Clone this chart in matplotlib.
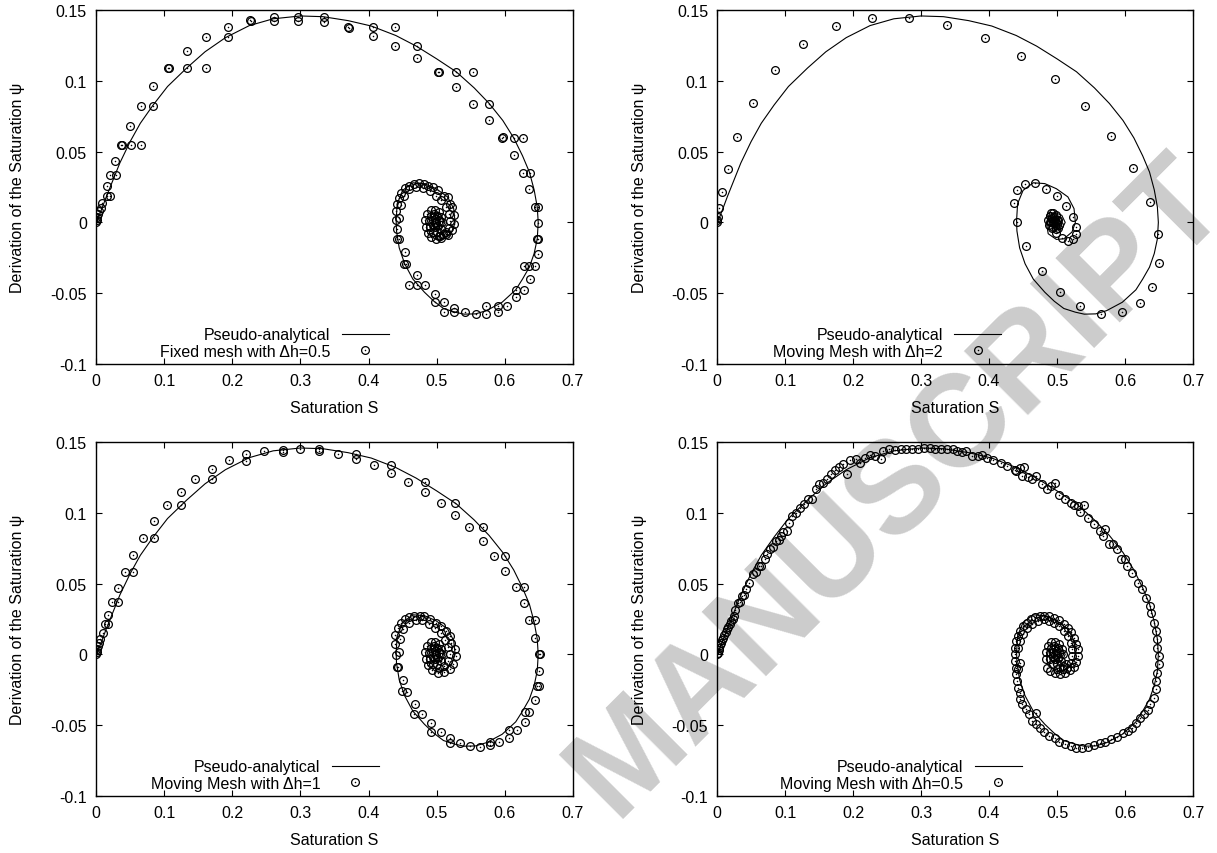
import numpy as np
import matplotlib
matplotlib.use('Agg')
import matplotlib.pyplot as plt

plt.rcParams['font.family'] = ['Liberation Sans', 'DejaVu Sans']
plt.rcParams['axes.unicode_minus'] = False

# pseudo-analytical trajectory in the (S, psi) phase plane
analytical = np.array([
    (0.0, 0.0), (0.004, 0.004), (0.008, 0.009), (0.015, 0.018), (0.025, 0.030), (0.035, 0.042),
    (0.05, 0.057), (0.065, 0.070), (0.084, 0.083), (0.105, 0.096), (0.133, 0.109), (0.16, 0.1205),
    (0.19, 0.1305), (0.225, 0.139), (0.26, 0.1438), (0.3, 0.1458), (0.333, 0.1453), (0.37, 0.1425),
    (0.404, 0.1387), (0.44, 0.132), (0.47, 0.1245), (0.50, 0.1155), (0.5286, 0.1064), (0.555, 0.095),
    (0.577, 0.084), (0.597, 0.072), (0.613, 0.0597), (0.626, 0.047), (0.636, 0.0356), (0.643, 0.023),
    (0.6476, 0.0108), (0.649, 0.0), (0.6476, -0.0116), (0.643, -0.022), (0.636, -0.0316), (0.626, -0.040),
    (0.616, -0.0476), (0.596, -0.0564), (0.573, -0.0623), (0.557, -0.0646), (0.54, -0.0648), (0.527, -0.0634),
    (0.51, -0.0608), (0.496, -0.0557), (0.482, -0.0493), (0.465, -0.040), (0.453, -0.0292), (0.445, -0.018),
    (0.441, -0.006), (0.4405, 0.0014), (0.442, 0.0132), (0.45, 0.0226), (0.465, 0.028), (0.482, 0.0274),
    (0.499, 0.0238), (0.516, 0.018), (0.525, 0.0097), (0.527, 0.0), (0.522, -0.0068), (0.51, -0.0116),
    (0.499, -0.012), (0.487, -0.008), (0.485, -0.002), (0.488, 0.004), (0.497, 0.007), (0.507, 0.005),
    (0.512, 0.0), (0.508, -0.004), (0.5, -0.005), (0.494, -0.002), (0.496, 0.002), (0.502, 0.003),
    (0.505, 0.0), (0.501, -0.002), (0.499, 0.0),
])

# fixed mesh, dh = 0.5
fixed_05 = np.array([
    (0.0, 0.0), (0.001, 0.002), (0.002, 0.004), (0.003, 0.006), (0.005, 0.008), (0.007, 0.010),
    (0.0086, 0.0139), (0.0154, 0.019), (0.020, 0.019), (0.0154, 0.0255), (0.021, 0.0333), (0.0286, 0.0333),
    (0.028, 0.0432), (0.037, 0.055), (0.038, 0.055), (0.050, 0.068), (0.051, 0.055), (0.066, 0.055),
    (0.066, 0.082), (0.084, 0.082), (0.084, 0.096), (0.105, 0.109), (0.107, 0.109), (0.133, 0.109),
    (0.133, 0.121), (0.161, 0.109), (0.161, 0.131), (0.193, 0.131), (0.193, 0.138), (0.226, 0.143),
    (0.227, 0.142), (0.261, 0.1453), (0.261, 0.1425), (0.297, 0.1453), (0.297, 0.1425), (0.334, 0.1453),
    (0.334, 0.1417), (0.370, 0.138), (0.371, 0.1375), (0.406, 0.138), (0.406, 0.132), (0.439, 0.138),
    (0.439, 0.1245), (0.471, 0.1245), (0.471, 0.116), (0.502, 0.1064), (0.503, 0.106), (0.529, 0.1064),
    (0.529, 0.0953), (0.554, 0.1064), (0.554, 0.0837), (0.577, 0.0837), (0.577, 0.0724), (0.596, 0.0597),
    (0.597, 0.06), (0.614, 0.0597), (0.627, 0.0597), (0.614, 0.0479), (0.626, 0.0351), (0.637, 0.0351),
    (0.636, 0.0233), (0.645, 0.0108), (0.648, 0.0108), (0.649, -0.0007), (0.648, -0.0116), (0.647, -0.0116),
    (0.648, -0.022), (0.628, -0.031), (0.636, -0.031), (0.645, -0.031), (0.637, -0.040), (0.616, -0.0476),
    (0.628, -0.0476), (0.616, -0.053), (0.603, -0.0587), (0.59, -0.0587), (0.59, -0.063), (0.573, -0.0587),
    (0.573, -0.0646), (0.557, -0.0646), (0.542, -0.0634), (0.526, -0.0606), (0.526, -0.0634), (0.510, -0.0559),
    (0.510, -0.0634), (0.497, -0.0505), (0.497, -0.0559), (0.483, -0.0441), (0.471, -0.0441), (0.471, -0.0368),
    (0.460, -0.0441), (0.455, -0.0292), (0.452, -0.0292), (0.453, -0.021), (0.442, -0.012), (0.444, -0.012),
    (0.442, -0.005), (0.44, 0.0014), (0.44, 0.0083), (0.442, 0.0132), (0.445, 0.0172), (0.447, 0.0208),
    (0.453, 0.0243), (0.459, 0.026), (0.466, 0.0271), (0.474, 0.0278), (0.482, 0.0274), (0.487, 0.026),
    (0.494, 0.025), (0.502, 0.0226), (0.51, 0.0186), (0.516, 0.018), (0.519, 0.0132), (0.522, 0.0108),
    (0.526, 0.005), (0.526, -0.001), (0.523, -0.0057), (0.516, -0.009), (0.507, -0.011), (0.499, -0.0116),
    (0.444, 0.003), (0.447, 0.012), (0.452, 0.019), (0.46, 0.0235), (0.47, 0.025), (0.48, 0.0245),
    (0.49, 0.022), (0.499, 0.019), (0.507, 0.0155), (0.513, 0.011), (0.518, 0.006), (0.52, 0.001),
    (0.518, -0.004), (0.513, -0.008), (0.505, -0.0095),
    (0.492, -0.0105), (0.487, -0.0075), (0.484, -0.003), (0.4835, 0.002), (0.486, 0.006), (0.491, 0.0085),
    (0.497, 0.009), (0.503, 0.0075), (0.507, 0.004), (0.5085, 0.0), (0.506, -0.0045), (0.5, -0.007),
    (0.494, -0.0065), (0.49, -0.003), (0.489, 0.001), (0.491, 0.0045), (0.496, 0.006), (0.501, 0.0045),
    (0.503, 0.001), (0.501, -0.0025), (0.497, -0.0035), (0.494, -0.0015), (0.4945, 0.0015), (0.498, 0.0025),
    (0.4995, 0.0), (0.497, -0.0005), (0.503, -0.0095), (0.509, -0.0085), (0.513, -0.0065),
])

# moving mesh, dh = 2
moving_2 = np.array([
    (0.0, 0.0), (0.0, 0.002), (0.001, 0.004), (0.003, 0.0101), (0.0068, 0.0215), (0.0154, 0.0375),
    (0.0296, 0.0601), (0.0524, 0.0844), (0.0854, 0.1078), (0.1264, 0.1262), (0.1748, 0.1384), (0.2278, 0.1441),
    (0.283, 0.1441), (0.3388, 0.1394), (0.394, 0.1302), (0.447, 0.1175), (0.4966, 0.1012), (0.541, 0.0823),
    (0.5797, 0.0611), (0.6116, 0.0382), (0.636, 0.0146), (0.6486, -0.0085), (0.6503, -0.0288), (0.640, -0.0453),
    (0.6213, -0.0571), (0.595, -0.0634), (0.565, -0.0644), (0.534, -0.059), (0.504, -0.0488), (0.4772, -0.034),
    (0.4544, -0.0167), (0.4408, 0.0), (0.4362, 0.0139), (0.4408, 0.0226), (0.4527, 0.0271), (0.468, 0.0278),
    (0.4835, 0.0238), (0.4994, 0.0184), (0.5125, 0.0116), (0.5228, 0.0038), (0.5285, -0.003), (0.5285, -0.0085),
    (0.524, -0.012), (0.5154, -0.013), (0.5068, -0.011), (0.499, -0.0078), (0.4926, -0.004), (0.4897, 0.0),
    (0.489, 0.0045), (0.489, 0.0045), (0.491, 0.0065), (0.494, 0.0065), (0.498, 0.005), (0.502, 0.002),
    (0.5035, -0.0015), (0.5015, -0.004), (0.498, -0.0045), (0.494, -0.003), (0.4905, 0.0), (0.4925, 0.003),
    (0.496, 0.004), (0.4995, 0.002), (0.5005, -0.001), (0.4975, -0.002), (0.494, 0.0), (0.4965, 0.0015),
    (0.498, 0.0), (0.487, 0.0015), (0.4885, -0.002),
])

# moving mesh, dh = 1
moving_1 = np.array([
    (0.0, 0.0), (0.001, 0.002), (0.002, 0.004), (0.003, 0.006), (0.004, 0.008), (0.006, 0.011),
    (0.0097, 0.0153), (0.0126, 0.0212), (0.0183, 0.0212), (0.0183, 0.0282), (0.024, 0.0372), (0.0326, 0.0372),
    (0.0326, 0.0468), (0.0423, 0.0581), (0.0543, 0.0581), (0.0543, 0.0702), (0.0686, 0.0819), (0.0858, 0.0819),
    (0.0858, 0.0939), (0.104, 0.1052), (0.124, 0.1052), (0.124, 0.1149), (0.1459, 0.1238), (0.17, 0.1238),
    (0.17, 0.1311), (0.1945, 0.137), (0.2197, 0.1365), (0.2197, 0.1417), (0.247, 0.1438), (0.274, 0.1443),
    (0.274, 0.1429), (0.2992, 0.1448), (0.327, 0.1448), (0.327, 0.1434), (0.3547, 0.1415), (0.3816, 0.1415),
    (0.3816, 0.1377), (0.4085, 0.1335), (0.433, 0.1335), (0.433, 0.1278), (0.4577, 0.1219), (0.4834, 0.1219),
    (0.4834, 0.1149), (0.5057, 0.1071), (0.5275, 0.1071), (0.5275, 0.0986), (0.5475, 0.0902), (0.5675, 0.0902),
    (0.5675, 0.08), (0.5847, 0.0694), (0.6007, 0.0694), (0.6007, 0.0589), (0.6161, 0.0476), (0.6276, 0.0476),
    (0.6276, 0.0365), (0.6362, 0.0242), (0.6447, 0.0242), (0.6447, 0.0118), (0.6505, 0.0), (0.652, 0.0),
    (0.6505, -0.0118), (0.6465, -0.0224), (0.6505, -0.0224), (0.6447, -0.0322), (0.6293, -0.0407), (0.6362, -0.0407),
    (0.6293, -0.0476), (0.6178, -0.0537), (0.6064, -0.0537), (0.6064, -0.0589), (0.592, -0.0617), (0.5778, -0.0617),
    (0.5778, -0.0643), (0.5635, -0.0652), (0.5492, -0.0647), (0.5343, -0.0624), (0.52, -0.0589), (0.52, -0.0624),
    (0.5057, -0.0546), (0.492, -0.0483), (0.492, -0.0546), (0.4788, -0.0424), (0.4674, -0.0424), (0.4685, -0.0348),
    (0.456, -0.0266), (0.449, -0.0259), (0.45, -0.0177), (0.4416, -0.0087), (0.4428, -0.0087), (0.44, -0.0005),
    (0.4388, 0.0075), (0.4394, 0.0134), (0.4428, 0.0188), (0.4474, 0.0224), (0.4531, 0.0252), (0.4588, 0.0264),
    (0.4674, 0.0275), (0.4748, 0.0275), (0.4817, 0.027), (0.4903, 0.0252), (0.4989, 0.0224), (0.5063, 0.02),
    (0.5132, 0.0165), (0.5189, 0.0129), (0.5217, 0.0082), (0.5263, 0.0035), (0.5286, -0.0012), (0.5246, -0.007),
    (0.5189, -0.0106), (0.5103, -0.0125), (0.5017, -0.0129), (0.4931, -0.0113),
    (0.444, 0.002), (0.446, 0.011), (0.451, 0.018), (0.459, 0.0225), (0.469, 0.0245), (0.479, 0.024),
    (0.489, 0.0215), (0.498, 0.0185), (0.506, 0.015), (0.512, 0.0105), (0.517, 0.0055), (0.519, 0.0),
    (0.517, -0.0045), (0.511, -0.0085), (0.503, -0.0095),
    (0.487, -0.0075), (0.484, -0.003), (0.4835, 0.002), (0.486, 0.006), (0.491, 0.0085), (0.497, 0.009),
    (0.503, 0.0075), (0.507, 0.004), (0.5085, 0.0), (0.506, -0.0045), (0.5, -0.007), (0.494, -0.0065),
    (0.49, -0.003), (0.489, 0.001), (0.491, 0.0045), (0.496, 0.006), (0.501, 0.0045), (0.503, 0.001),
    (0.501, -0.0025), (0.497, -0.0035), (0.494, -0.0015), (0.4945, 0.0015), (0.498, 0.0025), (0.4995, 0.0),
])

# moving mesh, dh = 0.5
moving_05 = np.array([
    (0.0, 0.0), (0.001, 0.0012), (0.0023, 0.0028), (0.0034, 0.0047), (0.0045, 0.0064), (0.0057, 0.0082),
    (0.0074, 0.0101), (0.0091, 0.0118), (0.0108, 0.0137), (0.0125, 0.0158), (0.0142, 0.0177), (0.0165, 0.0195),
    (0.0188, 0.0217), (0.021, 0.0235), (0.0233, 0.0252), (0.0256, 0.0271), (0.0267, 0.0313), (0.0313, 0.0365),
    (0.0341, 0.0372), (0.0369, 0.0412), (0.0398, 0.0417), (0.0426, 0.0459), (0.0472, 0.0506), (0.0528, 0.0565),
    (0.0568, 0.0581), (0.0614, 0.0624), (0.0653, 0.0624), (0.0699, 0.0671), (0.0739, 0.0706), (0.0784, 0.0742),
    (0.0824, 0.076), (0.0869, 0.08), (0.0909, 0.0805), (0.0938, 0.0836), (0.0966, 0.0866), (0.1023, 0.0871),
    (0.1063, 0.093), (0.1108, 0.0977), (0.1165, 0.0996), (0.1222, 0.1036), (0.1278, 0.1066), (0.1335, 0.1095),
    (0.1392, 0.1099), (0.1449, 0.1165), (0.1506, 0.1201), (0.1551, 0.1212), (0.1619, 0.1241), (0.1676, 0.1271),
    (0.1733, 0.1306), (0.179, 0.1325), (0.1847, 0.1342), (0.1915, 0.1271), (0.196, 0.137), (0.2045, 0.1382),
    (0.2102, 0.1354), (0.2176, 0.1389), (0.2256, 0.1412), (0.233, 0.1401), (0.2415, 0.1382), (0.2443, 0.1436),
    (0.2528, 0.1448), (0.2614, 0.1441), (0.2699, 0.1448), (0.2784, 0.1448), (0.2869, 0.1448), (0.2955, 0.1452),
    (0.304, 0.146), (0.3125, 0.1457), (0.321, 0.1452), (0.3295, 0.1452), (0.3381, 0.1452), (0.3466, 0.1448),
    (0.3523, 0.1436), (0.3608, 0.1429), (0.3665, 0.1436), (0.375, 0.1405), (0.3835, 0.1401), (0.3892, 0.1412),
    (0.3977, 0.1389), (0.4063, 0.1372), (0.4176, 0.1354), (0.4261, 0.133), (0.4375, 0.1306), (0.446, 0.1318),
    (0.4517, 0.1325), (0.4403, 0.1295), (0.4489, 0.1259), (0.4574, 0.1255), (0.4631, 0.1236), (0.4688, 0.1259),
    (0.4773, 0.1201), (0.4858, 0.1165), (0.4915, 0.1189), (0.4972, 0.1208), (0.5028, 0.1123), (0.5114, 0.1095),
    (0.5199, 0.1071), (0.5256, 0.1055), (0.5313, 0.1048), (0.5398, 0.1055), (0.5341, 0.1005), (0.5455, 0.0965),
    (0.554, 0.0918), (0.5625, 0.0871), (0.571, 0.0883), (0.5682, 0.0836), (0.5767, 0.0777), (0.5824, 0.0777),
    (0.5881, 0.0742), (0.5938, 0.0676), (0.5994, 0.0676), (0.6023, 0.0624), (0.6108, 0.0577), (0.6193, 0.0506),
    (0.625, 0.0459), (0.6307, 0.04), (0.6364, 0.0341), (0.6381, 0.0294), (0.642, 0.0224), (0.6449, 0.0165),
    (0.6466, 0.0106), (0.6477, 0.0047), (0.6494, -0.0012), (0.6494, -0.0071), (0.6477, -0.0129), (0.646, -0.0188),
    (0.6449, -0.0247), (0.642, -0.0306), (0.6364, -0.0353), (0.6335, -0.0393), (0.6278, -0.0424), (0.6222, -0.0447),
    (0.6165, -0.0483), (0.6108, -0.0518), (0.6051, -0.0541), (0.5966, -0.0553), (0.5881, -0.0581), (0.5795, -0.06),
    (0.571, -0.0619), (0.5625, -0.0624), (0.554, -0.0643), (0.5455, -0.0652), (0.5369, -0.0659), (0.5284, -0.0659),
    (0.5199, -0.0647), (0.5114, -0.0636), (0.5028, -0.0617), (0.4972, -0.0589), (0.4886, -0.0577), (0.4801, -0.0548),
    (0.4744, -0.0523), (0.4688, -0.0494), (0.4631, -0.0471), (0.4688, -0.0417), (0.4585, -0.0424), (0.4545, -0.0388),
    (0.4489, -0.0353), (0.446, -0.0318), (0.4449, -0.0271), (0.4432, -0.0235), (0.4415, -0.0188), (0.4403, -0.0141),
    (0.4392, -0.0094), (0.4375, -0.0047), (0.4375, 0.0), (0.4381, 0.0047), (0.4403, 0.0094), (0.4432, 0.0129),
    (0.446, 0.0165), (0.4506, 0.02), (0.4563, 0.0224), (0.4619, 0.0247), (0.4676, 0.0264), (0.4744, 0.0271),
    (0.4813, 0.0275), (0.4886, 0.0271), (0.4955, 0.0259), (0.5028, 0.024), (0.5097, 0.0217), (0.5159, 0.0188),
    (0.521, 0.0158), (0.5256, 0.0118), (0.5284, 0.0075), (0.5301, 0.0035), (0.5301, -0.0012), (0.5284, -0.0054),
    (0.5244, -0.0087), (0.5188, -0.0113), (0.5114, -0.0129), (0.504, -0.0137), (0.4972, -0.0134), (0.4903, -0.0118),
    (0.4847, -0.0094),
    (0.4432, 0.0047), (0.4449, -0.0059), (0.4432, -0.0106), (0.446, 0.0094), (0.4506, 0.0147), (0.4563, 0.0188),
    (0.4631, 0.0212), (0.4716, 0.0235), (0.4801, 0.0247), (0.4886, 0.0235), (0.4955, 0.0224), (0.5028, 0.02),
    (0.5097, 0.0165), (0.5159, 0.0129), (0.5199, 0.0082), (0.5227, 0.0035), (0.5227, -0.0012), (0.5199, -0.0059),
    (0.5142, -0.0094), (0.5085, -0.0106), (0.5, -0.0106),
    (0.4835, -0.003), (0.4835, 0.002), (0.486, 0.006), (0.491, 0.0085), (0.497, 0.009), (0.503, 0.0075),
    (0.507, 0.004), (0.5085, 0.0), (0.506, -0.0045), (0.5, -0.007), (0.494, -0.0065), (0.49, -0.003),
    (0.489, 0.001), (0.491, 0.0045), (0.496, 0.006), (0.501, 0.0045), (0.503, 0.001), (0.501, -0.0025),
    (0.497, -0.0035), (0.494, -0.0015), (0.4945, 0.0015), (0.498, 0.0025), (0.4995, 0.0), (0.497, -0.0005),
    (0.509, -0.0085), (0.513, -0.0065),
])

panels = [
    (fixed_05, 'Fixed mesh with \u0394h=0.5', [0.0789, 0.5726, 0.3919, 0.4145], 0.614),
    (moving_2, 'Moving Mesh with \u0394h=2', [0.5892, 0.5726, 0.3911, 0.4145], 0.597),
    (moving_1, 'Moving Mesh with \u0394h=1', [0.0789, 0.0667, 0.3919, 0.4145], 0.593),
    (moving_05, 'Moving Mesh with \u0394h=0.5', [0.5892, 0.0667, 0.3911, 0.4145], 0.640),
]

fs = 11.5
fig = plt.figure(figsize=(12.17, 8.54), dpi=100)

# grey diagonal stamp behind the data
fig.text(0.738, 0.43, 'MANUSCRIPT', rotation=45, rotation_mode='anchor', ha='center', va='center',
         fontsize=94, fontweight='bold', color='#cccccc', zorder=-1)

for data, label, rect, legx in panels:
    ax = fig.add_axes(rect)
    ax.patch.set_alpha(0)
    line, = ax.plot(analytical[:, 0], analytical[:, 1], color='black', lw=0.8)
    ring, = ax.plot(data[:, 0], data[:, 1], ls='none', marker='o', ms=5.6, mfc='none', mec='black', mew=0.9)
    dot, = ax.plot(data[:, 0], data[:, 1], ls='none', marker='o', ms=1.1, mfc='black', mec='black', mew=0)

    ax.set_xlim(0, 0.7)
    ax.set_ylim(-0.1, 0.15)
    ax.set_xticks(np.arange(0, 0.71, 0.1))
    ax.set_yticks([-0.1, -0.05, 0, 0.05, 0.1, 0.15])
    ax.xaxis.set_major_formatter(lambda v, p: '%g' % round(v, 2))
    ax.yaxis.set_major_formatter(lambda v, p: '%g' % round(v, 2))
    ax.tick_params(direction='in', top=True, right=True, length=4.5, width=0.8, labelsize=fs, pad=6.5)
    for sp in ax.spines.values():
        sp.set_linewidth(1.0)

    ax.set_xlabel('Saturation S', fontsize=fs, labelpad=8.5)
    ax.set_ylabel('Derivation of the Saturation \u03c8', fontsize=fs)
    ax.yaxis.set_label_coords(-0.148, 0.5)

    ax.legend([line, (ring, dot)], ['Pseudo-analytical', label], loc='lower right',
              bbox_to_anchor=(legx, 0.015), frameon=False, markerfirst=False, fontsize=fs,
              handlelength=2.95, handletextpad=0.7, borderpad=0, borderaxespad=0, labelspacing=0.1)

fig.savefig('out.png', dpi=100)
